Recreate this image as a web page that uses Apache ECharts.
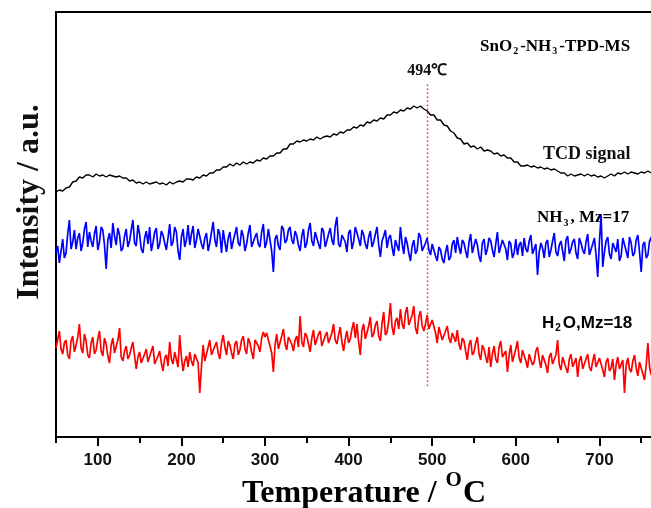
<!DOCTYPE html>
<html>
<head>
<meta charset="utf-8">
<script src="https://cdn.jsdelivr.net/npm/echarts@6/dist/echarts.min.js"></script>
<style>
  html, body { margin: 0; padding: 0; background: #fff; }
  #chart { width: 651px; height: 508px; }
</style>
</head>
<body>
<div id="chart"></div>
<script>
// Temperature sampling (°C): first reading and the step of each detector
const T0 = 50;
const TCD_STEP = 4;
const MS_STEP = 2;

// TCD signal (offset, arbitrary units), one value every 4 °C
const tcd = [
  245,247,246,249,250,255,256,260,259,262,
  262,260,263,261,262,260,262,261,260,261,
  259,259,256,257,254,255,253,255,253,254,
  255,253,254,252,255,253,255,256,255,258,
  258,257,260,259,262,261,264,264,267,267,
  270,270,273,271,274,272,275,273,275,274,
  277,276,279,278,281,281,284,284,288,288,
  293,293,296,295,297,296,298,297,300,298,
  300,301,300,303,302,305,304,307,307,310,
  309,312,311,315,314,317,316,319,318,322,
  322,325,324,327,326,329,328,331,329,331,
  328,326,322,322,317,317,312,311,306,304,
  299,298,293,294,290,291,288,290,286,287,
  286,283,284,281,282,279,279,275,275,271,
  271,272,270,271,269,270,268,269,267,268,
  266,264,264,261,263,261,262,263,261,263,
  261,262,260,261,259,261,263,261,264,263,
  265,263,265,264,263,265,264,266,264,265,
  265
];

// NH3 mass signal, m/z = 17 (offset, arbitrary units), one value every 2 °C
const nh3 = [
  184,191,174,186,198,179,184,203,217,188,195,207,188,199,204,186,194,208,215,190,
  205,196,190,203,211,187,195,210,207,192,168,197,204,189,214,201,192,209,202,186,
  189,201,208,190,196,207,217,194,191,212,203,188,184,199,206,193,210,186,194,205,
  209,188,193,206,202,194,187,199,213,191,195,210,205,186,177,200,208,190,197,212,
  192,203,211,189,197,208,206,193,188,199,204,186,194,205,215,197,190,208,203,184,
  207,195,185,199,205,188,196,203,210,194,191,207,201,186,193,204,212,190,189,200,
  204,193,190,205,213,189,195,208,206,186,165,198,202,191,187,211,208,194,197,207,
  210,197,193,206,201,192,186,201,208,189,194,207,214,196,191,205,203,193,188,209,
  206,190,196,203,209,197,192,211,220,193,190,202,204,195,185,204,207,188,195,210,
  211,198,191,207,202,193,188,200,206,190,195,203,210,192,180,196,201,207,189,199,
  202,190,181,197,198,186,210,194,183,200,194,184,176,191,197,183,187,204,200,186,
  186,194,199,187,182,193,195,181,176,190,187,178,174,185,192,177,180,193,197,184,
  200,190,183,197,194,186,179,195,203,184,185,198,192,181,175,194,198,182,188,199,
  196,187,180,193,205,184,186,197,199,188,177,196,193,179,184,198,182,192,195,181,
  199,188,185,196,202,183,182,193,162,185,194,189,179,194,197,180,187,196,204,185,
  181,192,196,186,176,197,201,183,188,195,198,184,178,199,194,187,183,195,203,182,
  184,193,199,182,160,195,222,170,185,196,200,183,178,194,193,185,198,176,181,199,
  197,186,179,200,194,181,184,197,202,185,165,192,195,179,182,196,200,183,187,199,
  192
];

// H2O mass signal, m/z = 18 (offset, arbitrary units), one value every 2 °C
const h2o = [
  89,97,106,88,83,94,97,82,78,96,101,85,92,100,113,89,84,103,96,82,
  79,94,100,83,87,98,106,86,81,99,93,81,74,92,99,84,82,97,109,80,
  76,86,91,78,82,89,95,81,68,80,85,74,72,83,88,75,76,86,91,73,
  72,81,86,74,66,79,82,71,95,78,73,85,84,70,102,80,66,76,81,70,
  85,76,71,83,84,74,44,70,92,76,78,90,97,82,81,91,95,84,78,94,
  102,90,82,96,92,84,78,93,96,82,87,97,101,88,83,99,94,85,78,97,
  98,91,85,99,105,100,104,97,91,84,65,92,103,88,90,101,108,93,87,100,
  102,93,86,97,101,90,121,95,90,104,101,93,85,99,107,92,94,103,106,91,
  90,101,105,94,96,104,113,97,93,102,110,95,86,98,106,94,98,108,115,99,
  113,95,82,107,113,98,99,111,120,100,103,112,116,101,96,114,125,102,105,116,
  134,110,102,116,119,108,128,113,108,124,130,112,114,122,131,109,103,120,126,111,
  106,113,122,108,107,117,116,104,94,110,109,97,95,106,111,99,94,104,103,95,
  107,93,87,99,96,86,77,92,97,82,85,94,100,83,77,92,88,80,74,90,
  70,83,91,78,74,90,96,80,79,86,65,82,92,75,76,88,96,79,74,87,
  89,76,69,83,85,72,75,86,90,77,69,82,81,72,64,80,84,73,71,82,
  97,72,67,80,79,69,64,78,83,70,71,79,60,76,81,68,67,78,83,70,
  66,76,83,70,68,79,78,67,60,75,79,66,69,78,57,72,80,68,66,77,
  44,72,79,68,65,76,82,69,61,75,74,63,57,72,94,70,62,79,74,66,
  68
];

// Axis labels and the marked desorption peak
const xTickLabels = [100, 200, 300, 400, 500, 600, 700, 800];
const xMinorTicks = [50, 150, 250, 350, 450, 550, 650, 750];
const peakTemp = 494;
const peakSpan = [51, 354];

const pairs = (arr, step) => arr.map((v, i) => [T0 + i * step, v]);

const SERIF = '"Liberation Serif", "Times New Roman", serif';
const SANS = '"Liberation Sans", Arial, sans-serif';

const chart = echarts.init(document.getElementById('chart'), null, { renderer: 'canvas' });

const baseText = (size, family) => ({ fontSize: size, fontWeight: 'bold', fontFamily: family, color: '#111' });

chart.setOption({
  animation: false,
  backgroundColor: '#fff',
  grid: {
    left: 56, right: -32, top: 12, bottom: 71,
    outerBoundsMode: 'none', containLabel: false,
    show: true, borderColor: '#000', borderWidth: 2, backgroundColor: 'transparent'
  },
  xAxis: [
    {
      type: 'value', min: 50, max: 800, interval: 50,
      position: 'bottom',
      axisLine: { show: true, onZero: false, lineStyle: { color: '#000', width: 2 } },
      axisTick: { show: true, inside: false, length: 9, customValues: xTickLabels, lineStyle: { color: '#000', width: 2 } },
      axisLabel: {
        show: true, margin: 15, customValues: xTickLabels,
        fontSize: 17, fontWeight: 'bold', fontFamily: SANS, color: '#111'
      },
      splitLine: { show: false }
    },
    {
      type: 'value', min: 50, max: 800, interval: 50,
      position: 'bottom', gridIndex: 0,
      axisLine: { show: false },
      axisTick: { show: true, inside: false, length: 6, customValues: xMinorTicks, lineStyle: { color: '#000', width: 2 } },
      axisLabel: { show: false },
      splitLine: { show: false }
    }
  ],
  yAxis: {
    type: 'value', min: 0, max: 425,
    axisLine: { show: true, onZero: false, lineStyle: { color: '#000', width: 2 } },
    axisTick: { show: false },
    axisLabel: { show: false },
    splitLine: { show: false }
  },
  series: [
    {
      name: 'TCD signal', type: 'line', data: pairs(tcd, TCD_STEP),
      showSymbol: false, symbol: 'none',
      lineStyle: { color: '#000', width: 1.4 },
      markLine: {
        silent: true, symbol: ['none', 'none'],
        lineStyle: { color: '#cc3b4e', type: [1.5, 2.5], width: 1.4 },
        label: {
          show: true, position: 'end', distance: 4,
          formatter: peakTemp + '℃',
          fontSize: 16, fontWeight: 'bold', fontFamily: SERIF, color: '#111'
        },
        data: [[{ coord: [peakTemp, peakSpan[0]] }, { coord: [peakTemp, peakSpan[1]] }]]
      }
    },
    {
      name: 'NH3', type: 'line', data: pairs(nh3, MS_STEP),
      showSymbol: false, symbol: 'none',
      lineStyle: { color: '#0000ff', width: 1.7 }
    },
    {
      name: 'H2O', type: 'line', data: pairs(h2o, MS_STEP),
      showSymbol: false, symbol: 'none',
      lineStyle: { color: '#ff0000', width: 1.7 }
    }
  ],
  graphic: [
    {
      type: 'text', x: 364, y: 490,
      style: {
        text: '{a|Temperature / }{o|O}{a|C}',
        align: 'center', verticalAlign: 'middle',
        rich: {
          a: { fontSize: 32, fontWeight: 'bold', fontFamily: SERIF, color: '#111', lineHeight: 40, verticalAlign: 'bottom' },
          o: { fontSize: 21, fontWeight: 'bold', fontFamily: SERIF, color: '#111', lineHeight: 40, verticalAlign: 'top', padding: [0, 1, 0, 1] }
        }
      }
    },
    {
      type: 'text', x: 30, y: 202, rotation: Math.PI / 2,
      style: {
        text: 'Intensity / a.u.',
        align: 'center', verticalAlign: 'middle',
        fontSize: 32, fontWeight: 'bold', fontFamily: SERIF, fill: '#111'
      }
    },
    {
      type: 'text', x: 480, y: 47,
      style: {
        text: '{b|SnO}{s|2}{b|-NH}{s|3}{b|-TPD-MS}',
        align: 'left', verticalAlign: 'middle',
        rich: {
          b: baseText(17, SERIF),
          s: Object.assign(baseText(10, SERIF), { padding: [9, 2, 0, 1] })
        }
      }
    },
    {
      type: 'text', x: 543, y: 154,
      style: {
        text: 'TCD signal',
        align: 'left', verticalAlign: 'middle',
        fontSize: 18, fontWeight: 'bold', fontFamily: SERIF, fill: '#111'
      }
    },
    {
      type: 'text', x: 537, y: 218,
      style: {
        text: '{b|NH}{s|3}{b|, Mz=17}',
        align: 'left', verticalAlign: 'middle',
        rich: {
          b: baseText(17, SERIF),
          s: Object.assign(baseText(10, SERIF), { padding: [10, 2, 0, 1] })
        }
      }
    },
    {
      type: 'text', x: 542, y: 323,
      style: {
        text: '{b|H}{s|2}{b|O,Mz=18}',
        align: 'left', verticalAlign: 'middle',
        rich: {
          b: baseText(17, SANS),
          s: Object.assign(baseText(10, SANS), { padding: [10, 2, 0, 1] })
        }
      }
    }
  ]
});
</script>
</body>
</html>
